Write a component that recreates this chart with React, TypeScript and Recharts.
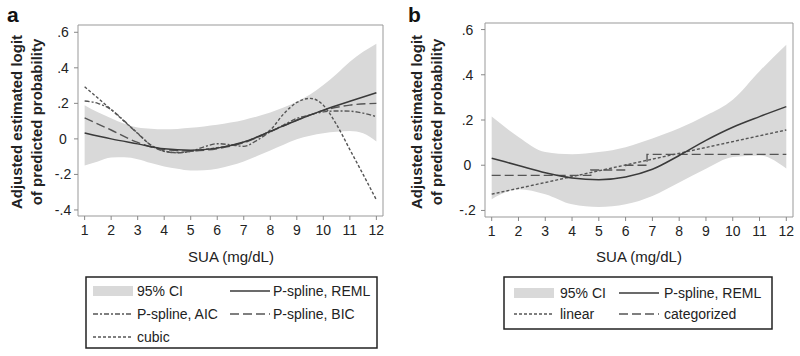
import React from "react";
import { ComposedChart, Area, Line, XAxis, YAxis, ReferenceArea } from "recharts";

// SUA (mg/dL) grid
const suaTicks = [1, 2, 3, 4, 5, 6, 7, 8, 9, 10, 11, 12];
const halfSteps = [1, 1.5, 2, 2.5, 3, 3.5, 4, 4.5, 5, 5.5, 6, 6.5, 7, 7.5, 8, 8.5, 9, 9.5, 10, 10.5, 11, 11.5, 12];

// panel a
const ciLowA = [-0.15, -0.127, -0.105, -0.103, -0.114, -0.136, -0.155, -0.168, -0.178, -0.176, -0.168, -0.15, -0.127, -0.097, -0.065, -0.033, -0.002, 0.018, 0.032, 0.04, 0.045, 0.032, -0.015];
const ciHighA = [0.19, 0.15, 0.116, 0.085, 0.064, 0.057, 0.054, 0.056, 0.062, 0.07, 0.079, 0.092, 0.107, 0.126, 0.148, 0.176, 0.209, 0.25, 0.303, 0.365, 0.434, 0.49, 0.536];
const remlA = [0.033, 0.0, -0.028, -0.056, -0.064, -0.052, -0.018, 0.042, 0.105, 0.162, 0.212, 0.26];
const bicA = [0.118, 0.05, -0.02, -0.06, -0.068, -0.055, -0.022, 0.04, 0.105, 0.16, 0.19, 0.2];
const aicA = [0.213, 0.2, 0.165, 0.1, 0.03, -0.035, -0.07, -0.078, -0.07, -0.045, -0.027, -0.033, -0.042, -0.008, 0.04, 0.078, 0.115, 0.135, 0.152, 0.157, 0.156, 0.145, 0.125];
const cubicA = [0.293, 0.23, 0.165, 0.098, 0.032, -0.035, -0.068, -0.077, -0.07, -0.06, -0.05, -0.037, -0.018, 0.01, 0.05, 0.14, 0.205, 0.228, 0.19, 0.08, -0.06, -0.2, -0.343];

// panel b
const ciLowB = [-0.15, -0.106, -0.128, -0.173, -0.185, -0.173, -0.136, -0.076, -0.016, 0.036, 0.043, -0.014];
const ciHighB = [0.215, 0.125, 0.058, 0.048, 0.058, 0.08, 0.118, 0.163, 0.22, 0.29, 0.416, 0.533];
const remlB = [0.031, -0.001, -0.033, -0.056, -0.064, -0.052, -0.018, 0.043, 0.11, 0.168, 0.215, 0.259];
const linearX = [1, 12];
const linearB = [-0.128, 0.156];
const catX = [1, 4.7, 6.0, 6.8, 12];
const catB = [-0.045, -0.021, 0.0, 0.048, 0.048];

const yTicksA = [-0.4, -0.2, 0, 0.2, 0.4, 0.6];
const yTicksB = [-0.2, 0, 0.2, 0.4, 0.6];

const bandA = halfSteps.map((x, i) => ({ x, ci: [ciLowA[i], ciHighA[i]] }));
const remlDataA = suaTicks.map((x, i) => ({ x, y: remlA[i] }));
const bicDataA = suaTicks.map((x, i) => ({ x, y: bicA[i] }));
const aicDataA = halfSteps.map((x, i) => ({ x, y: aicA[i] }));
const cubicDataA = halfSteps.map((x, i) => ({ x, y: cubicA[i] }));

const bandB = suaTicks.map((x, i) => ({ x, ci: [ciLowB[i], ciHighB[i]] }));
const remlDataB = suaTicks.map((x, i) => ({ x, y: remlB[i] }));
const linearDataB = linearX.map((x, i) => ({ x, y: linearB[i] }));
const catDataB = catX.map((x, i) => ({ x, y: catB[i] }));

const FONT = '"Liberation Sans", Arial, sans-serif';
const X_DOMAIN = [0.75, 12.25];
const Y_DOMAIN_A = [-0.434, 0.641];
const Y_DOMAIN_B = [-0.229, 0.629];

const fmt = (v: number) => {
  if (Math.abs(v) < 1e-9) return "0";
  return v.toFixed(1).replace("0.", ".");
};

const yTick = (offset: number) => (props: any) => (
  <text
    x={props.x - offset}
    y={props.y}
    textAnchor="middle"
    dominantBaseline="central"
    fontSize={14}
    fontFamily={FONT}
    fill="#222"
  >
    {fmt(props.payload.value)}
  </text>
);

const axisCommon = {
  tickLine: { stroke: "#888" },
  axisLine: false,
  tickSize: 4,
};

const Panel = ({ children, yDomain, yTicks, yWidth, margin, tickOffset, xHeight }: any) => (
  <ComposedChart width={400} height={260} margin={margin}>
    <XAxis
      dataKey="x"
      type="number"
      domain={X_DOMAIN}
      ticks={suaTicks}
      allowDataOverflow
      height={xHeight}
      tickMargin={5}
      tick={{ fontSize: 14, fill: "#222", fontFamily: FONT }}
      interval={0}
      {...axisCommon}
    />
    <YAxis
      type="number"
      domain={yDomain}
      ticks={yTicks}
      allowDataOverflow
      width={yWidth}
      tick={yTick(tickOffset)}
      interval={0}
      {...axisCommon}
    />
    {children}
    <ReferenceArea
      x1={X_DOMAIN[0]}
      x2={X_DOMAIN[1]}
      y1={yDomain[0]}
      y2={yDomain[1]}
      fill="none"
      stroke="#999"
      strokeWidth={1}
      ifOverflow="visible"
    />
  </ComposedChart>
);

const lineColor = "#3a3a3a";
const dashColor = "#555";

const Legend = ({ x, y, w, h, rows }: any) => (
  <g>
    <rect x={x} y={y} width={w} height={h} fill="#fff" stroke="#222" strokeWidth={1.5} />
    {rows}
  </g>
);

const LegendItem = ({ sx, tx, y, kind, dash, label }: any) => (
  <g>
    {kind === "band" ? (
      <rect x={sx} y={y - 5} width={40} height={10} fill="#d9d9d9" />
    ) : (
      <line x1={sx} x2={sx + 40} y1={y} y2={y} stroke={kind === "solid" ? lineColor : dashColor} strokeWidth={1.4} strokeDasharray={dash} />
    )}
    <text x={tx} y={y} dominantBaseline="central" fontSize={14} fontFamily={FONT} fill="#222">
      {label}
    </text>
  </g>
);

export default function App() {
  return (
    <div style={{ position: "absolute", left: 0, top: 0, width: 800, height: 356, background: "#fff", overflow: "hidden" }}>
      <div style={{ position: "absolute", left: 0, top: 0 }}>
        <Panel
          yDomain={Y_DOMAIN_A}
          yTicks={yTicksA}
          yWidth={78}
          tickOffset={9}
          xHeight={44}
          margin={{ top: 25, right: 17, bottom: 0, left: 0 }}
        >
          <Area data={bandA} dataKey="ci" type="monotone" stroke="none" fill="#d9d9d9" fillOpacity={1} isAnimationActive={false} />
          <Line data={cubicDataA} dataKey="y" type="monotone" stroke={dashColor} strokeWidth={1.4} strokeDasharray="3 2" dot={false} isAnimationActive={false} />
          <Line data={aicDataA} dataKey="y" type="monotone" stroke={dashColor} strokeWidth={1.4} strokeDasharray="5 2 2 2" dot={false} isAnimationActive={false} />
          <Line data={bicDataA} dataKey="y" type="monotone" stroke={dashColor} strokeWidth={1.4} strokeDasharray="9 4" dot={false} isAnimationActive={false} />
          <Line data={remlDataA} dataKey="y" type="monotone" stroke={lineColor} strokeWidth={1.5} dot={false} isAnimationActive={false} />
        </Panel>
      </div>
      <div style={{ position: "absolute", left: 400, top: 0 }}>
        <Panel
          yDomain={Y_DOMAIN_B}
          yTicks={yTicksB}
          yWidth={85}
          tickOffset={11.5}
          xHeight={43}
          margin={{ top: 23, right: 7, bottom: 0, left: 0 }}
        >
          <Area data={bandB} dataKey="ci" type="monotone" stroke="none" fill="#d9d9d9" fillOpacity={1} isAnimationActive={false} />
          <Line data={catDataB} dataKey="y" type="stepAfter" stroke={dashColor} strokeWidth={1.4} strokeDasharray="9 4" dot={false} isAnimationActive={false} />
          <Line data={linearDataB} dataKey="y" type="linear" stroke={dashColor} strokeWidth={1.4} strokeDasharray="3 2" dot={false} isAnimationActive={false} />
          <Line data={remlDataB} dataKey="y" type="monotone" stroke={lineColor} strokeWidth={1.5} dot={false} isAnimationActive={false} />
        </Panel>
      </div>
      <svg width={800} height={356} style={{ position: "absolute", left: 0, top: 0, pointerEvents: "none" }}>
        <text x={7} y={22} fontSize={21} fontWeight="bold" fontFamily={FONT} fill="#111">a</text>
        <text x={408} y={22} fontSize={21} fontWeight="bold" fontFamily={FONT} fill="#111">b</text>

        {[
          [22, 122],
          [422, 122],
        ].map(([bx, cy]) => (
          <g key={bx}>
            <text transform={`translate(${bx},${cy}) rotate(-90)`} textAnchor="middle" fontSize={15} fontWeight="bold" fontFamily={FONT} fill="#222">
              Adjusted estimated logit
            </text>
            <text transform={`translate(${bx + 20},${cy}) rotate(-90)`} textAnchor="middle" fontSize={15} fontWeight="bold" fontFamily={FONT} fill="#222">
              of predicted probability
            </text>
          </g>
        ))}

        <text x={231} y={262} textAnchor="middle" fontSize={15} fontFamily={FONT} fill="#222">SUA (mg/dL)</text>
        <text x={639} y={262} textAnchor="middle" fontSize={15} fontFamily={FONT} fill="#222">SUA (mg/dL)</text>

        <Legend
          x={86}
          y={277}
          w={291}
          h={71}
          rows={
            <>
              <LegendItem sx={93} tx={137} y={291} kind="band" label="95% CI" />
              <LegendItem sx={230} tx={273} y={291} kind="solid" label="P-spline, REML" />
              <LegendItem sx={93} tx={137} y={314} kind="dash" dash="5 2 2 2" label="P-spline, AIC" />
              <LegendItem sx={230} tx={273} y={314} kind="dash" dash="9 4" label="P-spline, BIC" />
              <LegendItem sx={93} tx={137} y={337} kind="dash" dash="3 2" label="cubic" />
            </>
          }
        />
        <Legend
          x={504}
          y={277}
          w={268}
          h={52}
          rows={
            <>
              <LegendItem sx={514} tx={560} y={293} kind="band" label="95% CI" />
              <LegendItem sx={619} tx={664} y={293} kind="solid" label="P-spline, REML" />
              <LegendItem sx={514} tx={560} y={314} kind="dash" dash="3 2" label="linear" />
              <LegendItem sx={619} tx={664} y={314} kind="dash" dash="9 4" label="categorized" />
            </>
          }
        />
      </svg>
    </div>
  );
}
